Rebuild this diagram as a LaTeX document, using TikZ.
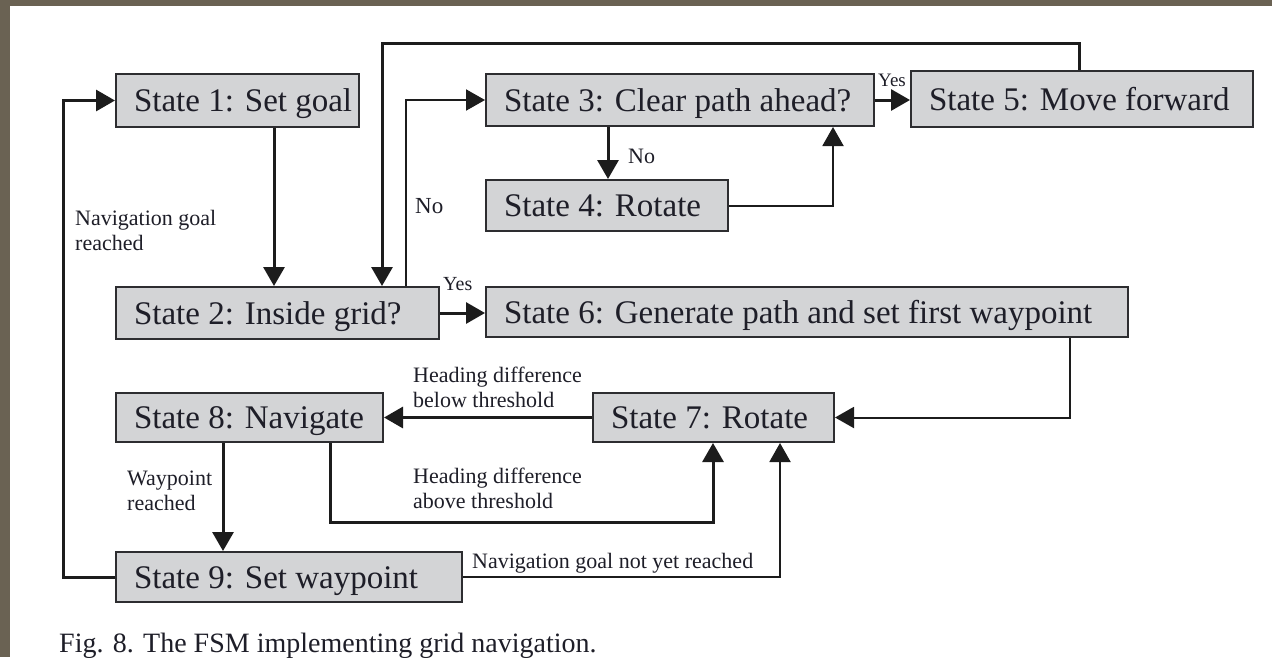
\documentclass[tikz,border=0pt]{standalone}
\usepackage{fontspec}
\setmainfont{Liberation Serif}
\usetikzlibrary{arrows.meta}
\definecolor{frame}{RGB}{106,98,83}
\definecolor{boxfill}{RGB}{211,212,214}
\definecolor{boxline}{RGB}{45,45,48}
\definecolor{ink}{RGB}{30,30,40}
\definecolor{wire}{RGB}{28,28,28}
\newcommand{\lbx}[2]{\makebox[#1][l]{#2}}
\begin{document}
\begin{tikzpicture}[x=1pt,y=-1pt,
  state/.style={draw=boxline, line width=2pt, fill=boxfill, text=ink, inner xsep=18pt, inner ysep=0pt,
    text height=22pt, text depth=0pt, font=\fontsize{33}{38}\selectfont},
  lbl/.style={text=ink, inner sep=0pt, font=\fontsize{22}{25}\selectfont, align=left},
  conn/.style={draw=wire, line width=3pt, -{Triangle[length=19pt,width=21pt]}},
  slim/.style={line width=2pt},
]
\fill[frame] (0,0) rectangle (1272,657);
\fill[white] (10,6) rectangle (1272,657);
\useasboundingbox (0,0) rectangle (1272,657);

% states
\node[state, minimum height=53pt] (S1) at (237.5,100.5) {\lbx{207pt}{State 1: Set goal}};
\node[state, minimum height=52pt] (S2) at (277.5,313) {\lbx{287pt}{State 2: Inside grid?}};
\node[state, minimum height=52pt] (S3) at (680,100) {\lbx{352pt}{State 3: Clear path ahead?}};
\node[state, minimum height=51pt] (S4) at (607,205.5) {\lbx{206pt}{State 4: Rotate}};
\node[state, minimum height=56pt] (S5) at (1082,99) {\lbx{306pt}{State 5: Move forward}};
\node[state, minimum height=50pt] (S6) at (807,312) {\lbx{606pt}{State 6: Generate path and set first waypoint}};
\node[state, minimum height=49pt] (S7) at (713.5,417.5) {\lbx{205pt}{State 7: Rotate}};
\node[state, minimum height=49pt] (S8) at (249.5,417.5) {\lbx{231pt}{State 8: Navigate}};
\node[state, minimum height=50pt] (S9) at (289,577) {\lbx{310pt}{State 9: Set waypoint}};

% helper coordinates
\coordinate (L) at (63,0);
\coordinate (x12) at (274,0);
\coordinate (T5) at (1079,43);
\coordinate (T2) at (382,43);
\coordinate (x23) at (406,0);
\coordinate (x34) at (608,0);
\coordinate (x43) at (833,0);
\coordinate (x67) at (1070,0);
\coordinate (B8) at (330,522);
\coordinate (x87) at (713,0);
\coordinate (x89) at (223,0);
\coordinate (x97) at (780,0);

% connectors
\draw[conn] (S9.west) -| (L |- S1.west) -- (S1.west);
\draw[conn] (S1.south -| x12) -- (S2.north -| x12);
\draw[conn] (S5.north -| T5) -- (T5) -- (T2) -- (S2.north -| T2);
\draw[conn, slim] (S2.north -| x23) |- (S3.west);
\draw[conn] (S3.south -| x34) -- (S4.north -| x34);
\draw[conn, slim] (S4.east) -| (S3.south -| x43);
\draw[conn] (S3.east) -- (S5.west |- S3.east);
\draw[conn] (S2.east) -- (S6.west |- S2.east);
\draw[conn, slim] (S6.south -| x67) |- (S7.east);
\draw[conn] (S7.west) -- (S8.east);
\draw[conn] (S8.south -| B8) -- (B8) -| (S7.south -| x87);
\draw[conn] (S8.south -| x89) -- (S9.north -| x89);
\draw[conn, slim] (S9.east) -| (S7.south -| x97);

% labels
\node[lbl, anchor=north west] (l1) at (75,210) {Navigation goal\\reached};
\node[lbl, anchor=north west] (l2) at (127,471) {Waypoint\\reached};
\node[lbl, anchor=north west] (l3) at (413,367) {Heading difference\\below threshold};
\node[lbl, anchor=north west] (l4) at (413,468) {Heading difference\\above threshold};
\node[lbl, anchor=base west] (l5) at (472,568) {Navigation goal not yet reached};
\node[lbl, anchor=base west, font=\fontsize{23}{25}\selectfont] (l6) at (415,213) {No};
\node[lbl, anchor=base west] (l7) at (628,163) {No};
\node[lbl, anchor=base west, font=\fontsize{19}{22}\selectfont] (l8) at (878,86) {Yes};
\node[lbl, anchor=base west, font=\fontsize{20}{22}\selectfont] (l9) at (443,290) {Yes};

% caption
\node[anchor=base west, inner sep=0pt, text=ink, font=\fontsize{28}{32}\selectfont] (cap) at (59,652) {Fig. 8. The FSM implementing grid navigation.};
\end{tikzpicture}
\end{document}
